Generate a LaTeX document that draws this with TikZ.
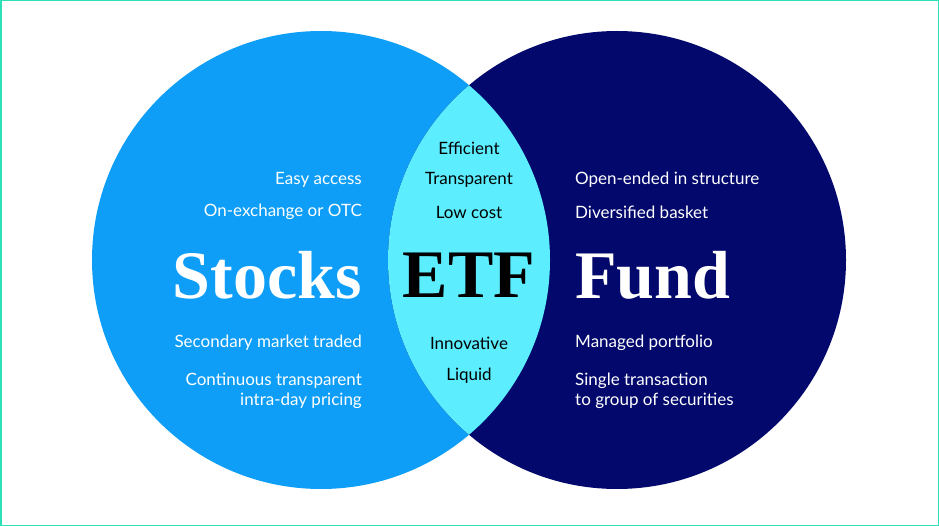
\documentclass[tikz,border=0pt]{standalone}
\usepackage{fontspec}
\setmainfont{Liberation Serif}
\newfontfamily\txtfont{Lato}
\definecolor{lblue}{HTML}{0E9EF7}
\definecolor{dblue}{HTML}{03086C}
\definecolor{cyanl}{HTML}{5CEEFF}
\definecolor{frame}{HTML}{2EE0B8}
\begin{document}
\begin{tikzpicture}[x=1pt,y=-1pt,
  sm/.style={font=\txtfont\fontsize{17}{20}\selectfont,inner sep=0pt},
  big/.style={font=\bfseries\fontsize{68}{70}\selectfont,inner sep=0pt}]
\fill[white] (0,0) rectangle (939,526);
\draw[frame,line width=1.5pt] (0.75,0.75) rectangle (938.25,525.25);
\fill[lblue] (321,260) circle (229);
\fill[dblue] (617,260) circle (229);
\begin{scope}
\clip (321,260) circle (229);
\fill[cyanl] (617,260) circle (229);
\end{scope}
\node[sm,white,anchor=east] (a1) at (362,180) {Easy access};
\node[sm,white,anchor=east] (a2) at (362,212) {On-exchange or OTC};
\node[big,white,anchor=east] (s) at (362,275) {Stocks};
\node[sm,white,anchor=east] (a3) at (362,343) {Secondary market traded};
\node[sm,white,anchor=east,align=right] (a4) at (362,391) {Continuous transparent\\intra-day pricing};
\node[sm,black] (c1) at (469,148) {Efficient};
\node[sm,black] (c2) at (469,180) {Transparent};
\node[sm,black] (c3) at (469,212) {Low cost};
\node[big,black] (e) at (469,275) {ETF};
\node[sm,black] (c4) at (469,343) {Innovative};
\node[sm,black] (c5) at (469,376) {Liquid};
\node[sm,white,anchor=west] (b1) at (575,180) {Open-ended in structure};
\node[sm,white,anchor=west] (b2) at (575,212) {Diversified basket};
\node[big,white,anchor=west] (f) at (575,275) {Fund};
\node[sm,white,anchor=west] (b3) at (575,343) {Managed portfolio};
\node[sm,white,anchor=west,align=left] (b4) at (575,391) {Single transaction\\to group of securities};
\end{tikzpicture}
\end{document}
